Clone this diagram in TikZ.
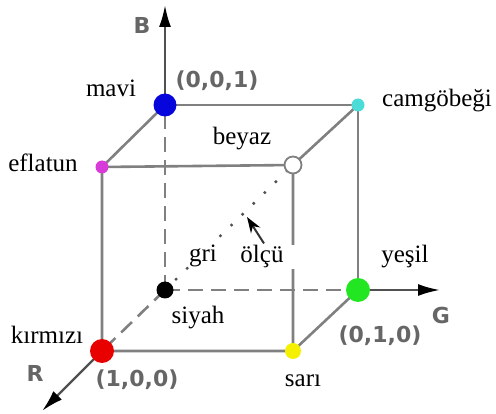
\documentclass[tikz,border=0pt]{standalone}
\usepackage{fontspec}
\setmainfont{Liberation Serif}
\newfontfamily\axfont{DejaVu Sans}
\usetikzlibrary{arrows.meta,backgrounds}
\definecolor{edgegray}{HTML}{808080}
\definecolor{axisgray}{HTML}{505050}
\definecolor{labgray}{HTML}{666666}
\definecolor{bluec}{HTML}{0505DC}
\definecolor{redc}{HTML}{E80000}
\definecolor{greenc}{HTML}{22E622}
\definecolor{yellowc}{HTML}{F4F000}
\definecolor{cyanc}{HTML}{4CDCD8}
\definecolor{magc}{HTML}{D83CD8}
\begin{document}
\begin{tikzpicture}[x=1pt,y=-1pt,
  edge/.style={draw=edgegray,line width=2.6pt},
  hidden/.style={edge,dash pattern=on 15pt off 8pt},
  diag/.style={draw=axisgray,line width=3.4pt,line cap=round,dash pattern=on 0pt off 15.5pt},
  dot/.style={circle,inner sep=0pt,draw=none},
  lbl/.style={font=\fontsize{25}{28}\selectfont,inner sep=0pt,anchor=base},
  coordlbl/.style={font=\axfont\bfseries\fontsize{22}{25}\selectfont,text=labgray,inner sep=0pt,anchor=base},
  axname/.style={font=\axfont\bfseries\fontsize{22}{25}\selectfont,text=labgray,inner sep=0pt,anchor=base},
  axisline/.style={draw=axisgray,line width=2.4pt,-{Latex[length=22pt,width=12pt,color=black]}},
  pointer/.style={draw=black!80,line width=2pt,-{Stealth[length=16pt,width=11pt,color=black]}}
]
\useasboundingbox (0,0) rectangle (496,414);

% vertices
\node[dot,fill=bluec,minimum size=23pt] (mavi) at (165,105) {};
\node[dot,fill=cyanc,minimum size=13pt] (camg) at (358,105) {};
\node[dot,fill=magc,minimum size=13pt] (efl) at (102,167) {};
\node[dot,draw=edgegray,line width=1.8pt,fill=white,minimum size=17pt] (beyaz) at (293,165) {};
\node[dot,fill=black,minimum size=17pt] (siyah) at (165,290) {};
\node[dot,fill=greenc,minimum size=24pt] (yesil) at (358,290) {};
\node[dot,fill=redc,minimum size=24pt] (kirmizi) at (102,351) {};
\node[dot,fill=yellowc,minimum size=16pt] (sari) at (293,351) {};

% axis tips
\coordinate (Btip) at (165,5);
\coordinate (Gtip) at (440,290);
\coordinate (Rtip) at (42,411);
\coordinate (otip) at (247,217);

\begin{scope}[on background layer]
  \draw[edge] (efl.center) -- (beyaz.center) -- (sari.center) -- (kirmizi.center) -- (efl.center);
  \draw[edge] (mavi.center) -- (camg.center) -- (yesil.center);
  \draw[edge] (mavi.center) -- (efl.center);
  \draw[edge] (camg.center) -- (beyaz.center);
  \draw[edge] (yesil.center) -- (sari.center);
  \draw[hidden] (siyah.center) -- (mavi.center);
  \draw[hidden] (siyah.center) -- (yesil.center);
  \draw[hidden] (siyah.center) -- (kirmizi.center);
  \draw[diag] (siyah.center) -- (beyaz.center);
  \draw[axisline] (mavi.center) -- (Btip);
  \draw[axisline] (yesil.center) -- (Gtip);
  \draw[axisline] (kirmizi.center) -- (Rtip);
\end{scope}

% labels
\node[lbl] (lmavi) at (111,97) {mavi};
\node[coordlbl] (l001) at (217,88) {(0,0,1)};
\node[lbl] (lcamg) at (437,107) {camgöbeği};
\node[lbl] (lbeyaz) at (242,145) {beyaz};
\node[lbl] (lefl) at (43,172) {eflatun};
\node[lbl,fill=white,inner xsep=1pt] (lgri) at (203,262) {gri};
\node[lbl,fill=white,inner xsep=11pt,inner ysep=1pt] (lolcu) at (262,263) {ölçü};
\node[lbl] (lyesil) at (405,263) {yeşil};
\node[lbl] (lsiyah) at (198,324) {siyah};
\node[lbl] (lkirm) at (47,344) {kırmızı};
\node[coordlbl] (l100) at (137,387) {(1,0,0)};
\node[coordlbl] (l010) at (380,343) {(0,1,0)};
\node[lbl] (lsari) at (303,387) {sarı};
\node[axname] (lB) at (142,34) {B};
\node[axname] (lG) at (441,324) {G};
\node[axname] (lR) at (35,382) {R};

\draw[pointer] ([xshift=2pt,yshift=1pt]lolcu.north) -- (otip);
\end{tikzpicture}
\end{document}
